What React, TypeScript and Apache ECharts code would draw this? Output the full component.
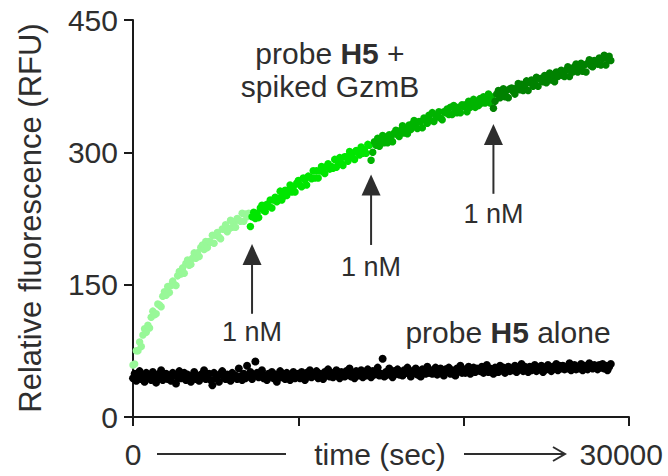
import React, { useEffect, useRef } from "react";
import * as echarts from "echarts";

// sampling grid (sec)
const STEP = 100;

// probe H5 alone (t = 0 .. 28900 s)
const ALONE_VALUES = [
  44, 49, 41, 47, 52, 43, 46, 40, 50, 45,
  47, 42, 51, 44, 39, 48, 46, 53, 42, 45,
  49, 43, 46, 41, 50, 47, 38, 45, 52, 44,
  46, 50, 42, 48, 44, 40, 47, 51, 43, 46,
  41, 48, 45, 53, 43, 47, 49, 42, 36, 50,
  44, 47, 40, 49, 52, 45, 43, 48, 46, 41,
  50, 45, 47, 43, 55, 46, 42, 49, 44, 58,
  46, 51, 43, 47, 63, 50, 45, 48, 53, 44,
  47, 42, 49, 46, 51, 44, 48, 40, 47, 52,
  45, 49, 43, 50, 46, 42, 48, 51, 44, 47,
  49, 44, 51, 47, 42, 50, 46, 53, 45, 48,
  47, 52, 44, 49, 46, 43, 51, 48, 54, 46,
  50, 45, 48, 53, 47, 44, 51, 49, 46, 52,
  48, 55, 46, 50, 44, 52, 49, 47, 53, 45,
  51, 47, 54, 49, 45, 52, 48, 50, 56, 47,
  49, 66, 46, 51, 48, 55, 50, 45, 52, 49,
  54, 48, 51, 47, 53, 50, 56, 49, 46, 52,
  50, 55, 48, 52, 46, 54, 51, 49, 57, 50,
  53, 49, 51, 56, 48, 52, 55, 50, 47, 54,
  51, 56, 49, 53, 50, 47, 55, 52, 58, 50,
  54, 50, 53, 57, 49, 52, 56, 51, 55, 53,
  52, 57, 50, 54, 59, 51, 55, 53, 49, 56,
  55, 51, 58, 53, 56, 50, 54, 57, 52, 55,
  53, 58, 51, 56, 54, 60, 52, 57, 55, 51,
  57, 53, 55, 59, 52, 56, 54, 58, 51, 56,
  54, 59, 56, 52, 57, 55, 60, 53, 58, 55,
  58, 54, 57, 55, 61, 53, 56, 59, 54, 57,
  55, 60, 53, 58, 56, 54, 61, 57, 55, 59,
  57, 54, 59, 56, 60, 55, 58, 53, 57, 60,
];

// probe H5 + spiked GzmB, one segment per 1 nM addition
const SEGMENT_STARTS = [0, 7100, 14400, 21800];

const SEGMENT_1 = [
  59, 60, 75, 75, 85, 80, 93, 100, 96, 104,
  101, 113, 120, 116, 117, 128, 127, 125, 137, 142,
  138, 148, 141, 149, 154, 150, 149, 160, 165, 162,
  169, 163, 174, 178, 172, 173, 180, 186, 180, 186,
  182, 192, 195, 190, 199, 192, 199, 198, 206, 197,
  206, 209, 204, 202, 213, 213, 218, 210, 213, 223,
  215, 221, 215, 225, 223, 222, 231, 222, 230, 227,
  231,
];

const SEGMENT_2 = [
  216, 227, 232, 225, 231, 226, 237, 240, 234, 233,
  241, 239, 246, 237, 246, 249, 244, 248, 256, 246,
  250, 257, 251, 257, 263, 255, 261, 255, 265, 268,
  263, 261, 271, 269, 263, 273, 272, 270, 279, 271,
  279, 271, 279, 284, 278, 276, 284, 287, 281, 284,
  282, 292, 283, 289, 294, 288, 285, 295, 295, 290,
  301, 295, 299, 292, 302, 301, 297, 306, 299, 303,
  299, 309, 308,
];

const SEGMENT_3 = [
  291, 300, 312, 308, 316, 307, 313,
  319, 311, 317, 311, 320, 317, 312, 322, 325, 320,
  318, 325, 330, 322, 326, 321, 331, 326, 332, 336,
  330, 327, 335, 335, 328, 339, 337, 333, 342, 336,
  345, 335, 342, 340, 346, 339, 337, 346, 345, 349,
  343, 351, 343, 353, 348, 345, 351, 345, 354, 352,
  354, 346, 358, 351, 355, 360, 351, 358, 353, 361,
  356, 363, 356, 361, 366, 356, 363,
];

const SEGMENT_4 = [
  350, 358, 366,
  370, 362, 367, 372, 363, 370, 362, 372, 373, 369,
  366, 373, 378, 371, 377, 370, 376, 381, 370, 379,
  382, 375, 378, 385, 375, 383, 384, 380, 387, 379,
  385, 390, 382, 387, 380, 391, 386, 391, 393, 387,
  386, 393, 397, 386, 393, 391, 397, 400, 391, 395,
  401, 392, 399, 391, 401, 405, 398, 397, 404, 403,
  400, 407, 399, 406, 410, 399, 406, 409, 404,
];

const SEGMENTS = [SEGMENT_1, SEGMENT_2, SEGMENT_3, SEGMENT_4];

// 1 nM additions: time, arrow tip value, arrow tail value, label value
const ADD_TIMES = [7200, 14400, 21800];
const ADD_TIPS = [196, 275, 332];
const ADD_TAILS = [117, 195, 253];
const ADD_LABEL_VALUES = [96, 170, 230];
const ADD_LABEL = "1 nM";

const Y_TITLE = "Relative fluorescence (RFU)";
const X_TITLE = "time (sec)";
const X_MIN_LABEL = "0";
const X_MAX_LABEL = "30000";

const FONT = '"Liberation Sans", Arial, Helvetica, sans-serif';
const TEXT = "#2e2e2e";
const AXIS = "#1a1a1a";
const SEG_COLORS = ["#98f898", "#00e600", "#00b400", "#008200"];

export default function App() {
  const ref = useRef<HTMLDivElement>(null);

  useEffect(() => {
    if (!ref.current) return;
    const chart = echarts.init(ref.current, null, { renderer: "svg" });

    const series: any[] = [
      {
        type: "scatter",
        name: "alone",
        data: ALONE_VALUES.map((v, i) => [i * STEP, v]),
        symbolSize: 8,
        itemStyle: { color: "#000000", opacity: 1 },
        z: 2,
      },
      ...SEGMENTS.map((seg, k) => ({
        type: "scatter",
        name: "seg" + (k + 1),
        data: seg.map((v, i) => [SEGMENT_STARTS[k] + i * STEP, v]),
        symbolSize: 7.5,
        itemStyle: { color: SEG_COLORS[k], opacity: 1 },
        z: 3,
      })),
    ];

    chart.setOption({
      animation: false,
      grid: { left: 133, right: 39, top: 20, bottom: 59, containLabel: false },
      xAxis: {
        type: "value",
        min: 0,
        max: 30000,
        interval: 10000,
        axisLine: { show: true, lineStyle: { color: AXIS, width: 2 } },
        axisTick: { show: true, length: 9, lineStyle: { color: AXIS, width: 2 } },
        axisLabel: { show: false },
        splitLine: { show: false },
      },
      yAxis: {
        type: "value",
        min: 0,
        max: 450,
        interval: 150,
        axisLine: { show: true, lineStyle: { color: AXIS, width: 2 } },
        axisTick: { show: true, length: 9, lineStyle: { color: AXIS, width: 2 } },
        axisLabel: {
          show: true,
          margin: 15,
          fontSize: 30,
          fontFamily: FONT,
          color: TEXT,
        },
        splitLine: { show: false },
      },
      series,
    });

    const px = (x: number, y: number) =>
      chart.convertToPixel({ gridIndex: 0 } as any, [x, y]) as number[];

    const graphics: any[] = [];

    ADD_TIMES.forEach((t, i) => {
      const tip = px(t, ADD_TIPS[i]);
      const tail = px(t, ADD_TAILS[i]);
      const lab = px(t, ADD_LABEL_VALUES[i]);
      graphics.push({
        type: "line",
        shape: { x1: tip[0], y1: tip[1] + 16, x2: tail[0], y2: tail[1] },
        style: { stroke: TEXT, lineWidth: 2 },
        z: 10,
      });
      graphics.push({
        type: "polygon",
        shape: {
          points: [
            [tip[0], tip[1]],
            [tip[0] - 9.5, tip[1] + 21],
            [tip[0] + 9.5, tip[1] + 21],
          ],
        },
        style: { fill: TEXT },
        z: 10,
      });
      graphics.push({
        type: "text",
        x: lab[0],
        y: lab[1],
        style: {
          text: ADD_LABEL,
          fontSize: 27,
          fontFamily: FONT,
          fill: TEXT,
          align: "center",
          verticalAlign: "middle",
        },
        z: 10,
      });
    });

    // series annotations
    graphics.push({
      type: "text",
      x: 330,
      y: 70,
      style: {
        text: "{n|probe }{b|H5}{n| +}\n{n|spiked GzmB}",
        align: "center",
        verticalAlign: "middle",
        lineHeight: 33,
        rich: {
          n: { fontSize: 30, fontFamily: FONT, fill: TEXT, lineHeight: 33 },
          b: { fontSize: 30, fontFamily: FONT, fill: TEXT, fontWeight: "bold", lineHeight: 33 },
        },
      },
      z: 10,
    });
    graphics.push({
      type: "text",
      x: 508,
      y: 332,
      style: {
        text: "{n|probe }{b|H5}{n| alone}",
        align: "center",
        verticalAlign: "middle",
        rich: {
          n: { fontSize: 30, fontFamily: FONT, fill: TEXT },
          b: { fontSize: 30, fontFamily: FONT, fill: TEXT, fontWeight: "bold" },
        },
      },
      z: 10,
    });

    // y title
    graphics.push({
      type: "text",
      x: 30,
      y: 218,
      rotation: Math.PI / 2,
      style: {
        text: Y_TITLE,
        fontSize: 31,
        fontFamily: FONT,
        fill: TEXT,
        align: "center",
        verticalAlign: "middle",
      },
    });

    // x-axis label row
    const labelY = 454;
    graphics.push({
      type: "text",
      x: 133,
      y: labelY,
      style: { text: X_MIN_LABEL, fontSize: 30, fontFamily: FONT, fill: TEXT, align: "center", verticalAlign: "middle" },
    });
    graphics.push({
      type: "line",
      shape: { x1: 157, y1: labelY, x2: 286, y2: labelY },
      style: { stroke: TEXT, lineWidth: 2 },
    });
    graphics.push({
      type: "text",
      x: 380,
      y: labelY,
      style: { text: X_TITLE, fontSize: 30, fontFamily: FONT, fill: TEXT, align: "center", verticalAlign: "middle" },
    });
    graphics.push({
      type: "line",
      shape: { x1: 464, y1: labelY, x2: 565, y2: labelY },
      style: { stroke: TEXT, lineWidth: 2 },
    });
    graphics.push({
      type: "polyline",
      shape: { points: [[553, labelY - 7], [565, labelY], [553, labelY + 7]] },
      style: { stroke: TEXT, lineWidth: 2, fill: "none" },
    });
    graphics.push({
      type: "text",
      x: 663,
      y: labelY,
      style: { text: X_MAX_LABEL, fontSize: 30, fontFamily: FONT, fill: TEXT, align: "right", verticalAlign: "middle" },
    });

    chart.setOption({ graphic: graphics });

    return () => chart.dispose();
  }, []);

  return (
    <div
      ref={ref}
      style={{ position: "absolute", left: 0, top: 0, width: 668, height: 476, background: "#ffffff" }}
    />
  );
}
